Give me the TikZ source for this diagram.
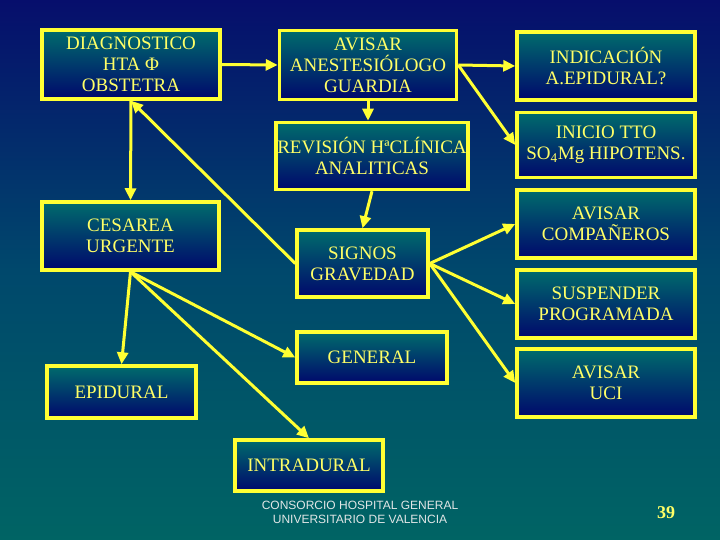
\documentclass[tikz,border=0pt]{standalone}
\usepackage{fontspec}
\setmainfont{Liberation Serif}
\newfontfamily\footfont{Liberation Sans}
\usetikzlibrary{arrows.meta}
\definecolor{bgtop}{RGB}{6,14,108}
\definecolor{bgmid}{RGB}{0,72,108}
\definecolor{bgbot}{RGB}{0,100,100}
\definecolor{boxtop}{RGB}{0,108,108}
\definecolor{boxbot}{RGB}{0,8,108}
\definecolor{edgeyellow}{RGB}{255,255,51}
\definecolor{txtyellow}{RGB}{255,255,102}
\definecolor{footgray}{RGB}{225,230,230}
\tikzset{
  box/.style={draw=edgeyellow, line width=3.5pt, top color=boxtop, bottom color=boxbot,
    text=txtyellow, align=center, font=\fontsize{19}{21}\selectfont, inner sep=0pt},
  conn/.style={draw=edgeyellow, line width=3pt, -{Triangle[length=12pt,width=11pt]}}
}
\begin{document}
\begin{tikzpicture}[x=1pt,y=-1pt]
\useasboundingbox (0,0) rectangle (720,540);
\shade[top color=bgtop, bottom color=bgmid] (0,0) rectangle (720,270);
\shade[top color=bgmid, bottom color=bgbot] (0,270) rectangle (720,540);

\node[box, minimum width=178pt, minimum height=69pt] (diag) at (131,64.5) {DIAGNOSTICO\\HTA Φ\\OBSTETRA};
\node[box, minimum width=177pt, minimum height=69pt] (avis) at (368,65) {AVISAR\\ANESTESIÓLOGO\\GUARDIA};
\node[box, minimum width=178pt, minimum height=68pt] (indic) at (606,66) {INDICACIÓN\\A.EPIDURAL?};
\node[box, minimum width=192pt, minimum height=67pt] (revis) at (372,156) {REVISIÓN HªCLÍNICA\\ANALITICAS};
\node[box, minimum width=178pt, minimum height=65pt] (inicio) at (606,145) {INICIO TTO\\SO\textsubscript{4}Mg HIPOTENS.};
\node[box, minimum width=177pt, minimum height=68pt] (cesar) at (130.5,236) {CESAREA\\URGENTE};
\node[box, minimum width=131pt, minimum height=67pt] (signos) at (362.5,263.5) {SIGNOS\\GRAVEDAD};
\node[box, minimum width=178pt, minimum height=68pt] (compa) at (606,224) {AVISAR\\COMPAÑEROS};
\node[box, minimum width=178pt, minimum height=68pt] (susp) at (606,304) {SUSPENDER\\PROGRAMADA};
\node[box, minimum width=150pt, minimum height=51pt] (general) at (372,357.5) {GENERAL};
\node[box, minimum width=178pt, minimum height=68pt] (uci) at (606,383) {AVISAR\\UCI};
\node[box, minimum width=149pt, minimum height=52pt] (epid) at (121.5,392) {EPIDURAL};
\node[box, minimum width=148pt, minimum height=51pt] (intra) at (309,465.5) {INTRADURAL};

\draw[conn] (diag.east) -- (avis.west);
\draw[conn] (avis.east) -- (indic.west);
\draw[conn] (avis.east) -- (inicio.west);
\draw[conn] (avis.south) -- (avis.south |- revis.north);
\draw[conn] (revis.south) -- (signos.north);
\draw[conn] (signos.east) -- (compa.west);
\draw[conn] (signos.east) -- (susp.west);
\draw[conn] (signos.east) -- (uci.west);
\draw[conn] (signos.west) -- (diag.south);
\draw[conn] (diag.south) -- (cesar.north);
\draw[conn] (cesar.south) -- (epid.north);
\draw[conn] (cesar.south) -- (general.west);
\draw[conn] (cesar.south) -- (intra.north);

\node[text=footgray, font=\footfont\fontsize{12}{14}\selectfont, align=center, inner sep=0pt] (foot) at (360,512) {CONSORCIO HOSPITAL GENERAL\\UNIVERSITARIO DE VALENCIA};
\node[text=txtyellow, font=\bfseries\fontsize{18}{20}\selectfont, inner sep=0pt] (pnum) at (666,513) {39};
\end{tikzpicture}
\end{document}
